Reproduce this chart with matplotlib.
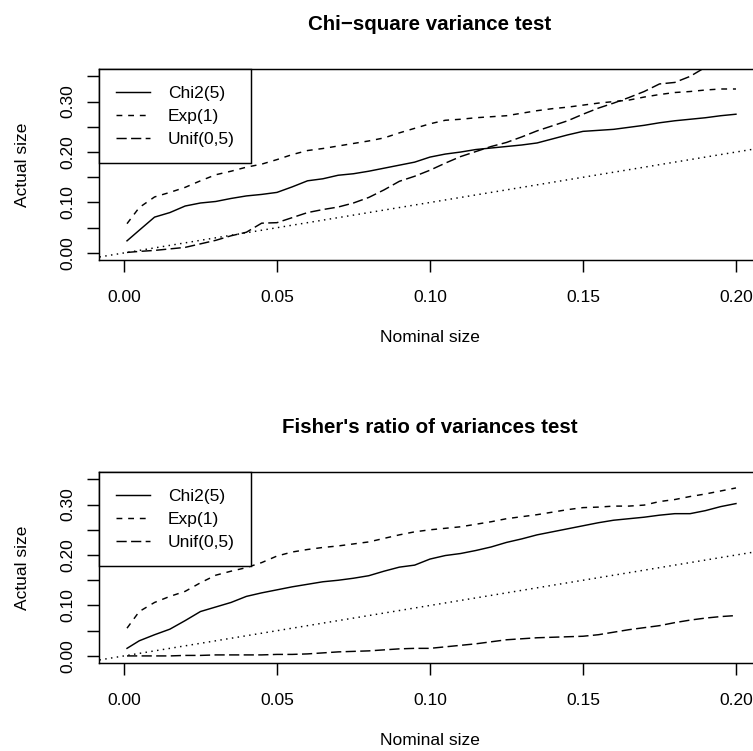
import numpy as np
import matplotlib
matplotlib.use("Agg")
import matplotlib.pyplot as plt
from matplotlib.ticker import MultipleLocator, FormatStrFormatter

plt.rcParams['font.family'] = ['Liberation Sans', 'DejaVu Sans']

# nominal sizes at which the empirical size was read
nominal = [0.001, 0.005, 0.010, 0.015, 0.020, 0.025, 0.030, 0.035, 0.040, 0.045,
           0.050, 0.055, 0.060, 0.065, 0.070, 0.075, 0.080, 0.085, 0.090, 0.095,
           0.100, 0.105, 0.110, 0.115, 0.120, 0.125, 0.130, 0.135, 0.140, 0.145,
           0.150, 0.155, 0.160, 0.165, 0.170, 0.175, 0.180, 0.185, 0.190, 0.195,
           0.200]

labels = ["Chi2(5)", "Exp(1)", "Unif(0,5)"]
titles = ["Chi\u2212square variance test", "Fisher's ratio of variances test"]

# chi-square variance test
chisq_chi2 = [0.024, 0.045, 0.071, 0.080, 0.093, 0.099, 0.102, 0.108, 0.113, 0.116,
              0.120, 0.131, 0.143, 0.147, 0.154, 0.157, 0.162, 0.168, 0.174, 0.180,
              0.190, 0.196, 0.200, 0.205, 0.208, 0.211, 0.214, 0.218, 0.226, 0.234,
              0.241, 0.243, 0.245, 0.249, 0.253, 0.258, 0.262, 0.265, 0.268, 0.272,
              0.275]
chisq_exp = [0.058, 0.090, 0.111, 0.120, 0.130, 0.143, 0.155, 0.162, 0.170, 0.176,
             0.185, 0.195, 0.203, 0.207, 0.212, 0.217, 0.222, 0.228, 0.238, 0.247,
             0.256, 0.263, 0.265, 0.268, 0.270, 0.272, 0.277, 0.282, 0.286, 0.289,
             0.293, 0.297, 0.300, 0.303, 0.309, 0.314, 0.318, 0.320, 0.323, 0.325,
             0.325]
chisq_unif = [0.001, 0.003, 0.005, 0.008, 0.011, 0.018, 0.025, 0.034, 0.041, 0.059,
              0.060, 0.070, 0.080, 0.086, 0.091, 0.099, 0.110, 0.125, 0.142, 0.152,
              0.164, 0.178, 0.191, 0.201, 0.211, 0.219, 0.230, 0.242, 0.252, 0.262,
              0.275, 0.287, 0.297, 0.308, 0.320, 0.335, 0.338, 0.350, 0.368, 0.378,
              0.388]

# Fisher's F test
f_chi2 = [0.015, 0.030, 0.042, 0.053, 0.070, 0.088, 0.097, 0.106, 0.118, 0.125,
          0.131, 0.137, 0.142, 0.147, 0.150, 0.154, 0.159, 0.168, 0.176, 0.180,
          0.192, 0.199, 0.203, 0.209, 0.216, 0.225, 0.232, 0.240, 0.246, 0.252,
          0.258, 0.264, 0.269, 0.272, 0.275, 0.279, 0.282, 0.282, 0.288, 0.296,
          0.302]
f_exp = [0.055, 0.088, 0.106, 0.118, 0.128, 0.145, 0.160, 0.168, 0.175, 0.185,
         0.198, 0.206, 0.211, 0.215, 0.218, 0.222, 0.226, 0.233, 0.240, 0.246,
         0.250, 0.253, 0.256, 0.261, 0.266, 0.272, 0.276, 0.280, 0.285, 0.290,
         0.294, 0.295, 0.297, 0.297, 0.299, 0.306, 0.310, 0.316, 0.321, 0.327,
         0.333]
f_unif = [0.000, 0.000, 0.000, 0.000, 0.001, 0.001, 0.002, 0.002, 0.002, 0.002,
          0.003, 0.003, 0.004, 0.006, 0.008, 0.009, 0.010, 0.012, 0.014, 0.015,
          0.015, 0.018, 0.021, 0.024, 0.028, 0.032, 0.034, 0.036, 0.037, 0.038,
          0.039, 0.042, 0.047, 0.052, 0.056, 0.060, 0.066, 0.071, 0.075, 0.078,
          0.080]

panels = [(chisq_chi2, chisq_exp, chisq_unif), (f_chi2, f_exp, f_unif)]
styles = ["-", (0, (4, 4)), (0, (7, 3))]

lw = 1.05
fig = plt.figure(figsize=(7.53, 7.51), dpi=100)
positions = [[0.1321, 0.6538, 0.8778, 0.2539], [0.1321, 0.1172, 0.8778, 0.2539]]

for pos, title, series in zip(positions, titles, panels):
    ax = fig.add_axes(pos)
    for ys, ls, lab in zip(series, styles, labels):
        ax.plot(nominal, ys, color="black", linestyle=ls, linewidth=lw, label=lab)
    # reference line actual = nominal
    ax.axline((0, 0), slope=1, color="black", linestyle=(0, (1, 3)), linewidth=lw)

    ax.set_xlim(-0.008, 0.208)
    ax.set_ylim(-0.014, 0.364)
    ax.set_xticks([0, 0.05, 0.10, 0.15, 0.20])
    ax.xaxis.set_major_formatter(FormatStrFormatter("%.2f"))
    ax.yaxis.set_major_locator(MultipleLocator(0.1))
    ax.yaxis.set_minor_locator(MultipleLocator(0.05))
    ax.yaxis.set_major_formatter(FormatStrFormatter("%.2f"))
    ax.tick_params(axis="both", which="both", direction="out", length=8.4,
                   width=lw, labelsize=12.5, colors="black")
    ax.tick_params(axis="x", pad=13)
    ax.tick_params(axis="y", pad=8.6)
    for t in ax.get_yticklabels():
        t.set_rotation(90)
        t.set_verticalalignment("center")
    for s in ax.spines.values():
        s.set_linewidth(lw)

    ax.set_title(title, fontsize=14.8, fontweight="bold", pad=28.3)
    ax.set_xlabel("Nominal size", fontsize=12.5, labelpad=18.5)
    ax.set_ylabel("Actual size", fontsize=12.5, labelpad=21.9)

    leg = ax.legend(loc="upper left", bbox_to_anchor=(0, 1), borderaxespad=0,
                    fontsize=12.5, frameon=True, fancybox=False, framealpha=1,
                    edgecolor="black", handlelength=2.0, handletextpad=1.0,
                    labelspacing=0.47, borderpad=0.93)
    leg.get_frame().set_linewidth(lw)

fig.savefig("out.png", dpi=100)
